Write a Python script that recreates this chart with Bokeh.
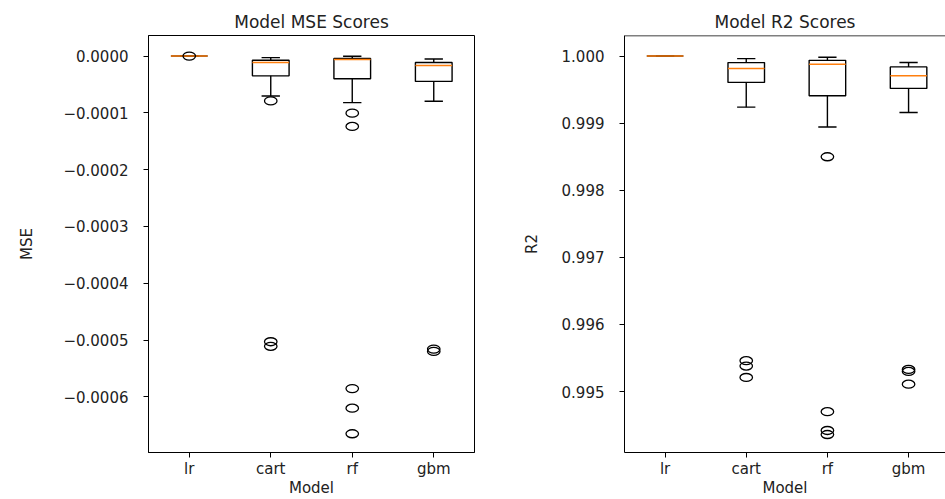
from bokeh.plotting import figure
from bokeh.layouts import row
from bokeh.models import Range1d, FixedTicker, Span
from bokeh.embed import file_html
from bokeh.resources import INLINE

models = ["lr", "cart", "rf", "gbm"]
positions = [1, 2, 3, 4]

# MSE box-plot statistics
mse_whisker_low = [0.0, -0.0000704, -0.0000820, -0.0000796]
mse_q1 = [0.0, -0.0000349, -0.0000400, -0.0000447]
mse_median = [0.0, -0.0000115, -0.0000063, -0.0000168]
mse_q3 = [0.0, -0.0000075, -0.0000045, -0.0000115]
mse_whisker_high = [0.0, -0.0000028, -0.0000005, -0.0000052]
mse_outliers = [
    [-0.0000002],
    [-0.0000790, -0.000503, -0.000511],
    [-0.0001006, -0.000124, -0.0005855, -0.000620, -0.000665],
    [-0.000516, -0.000520],
]
mse_yticks = [0.0, -0.0001, -0.0002, -0.0003, -0.0004, -0.0005, -0.0006]
mse_ytick_labels = ["0.0000", "\u22120.0001", "\u22120.0002", "\u22120.0003",
                    "\u22120.0004", "\u22120.0005", "\u22120.0006"]

# R2 box-plot statistics
r2_whisker_low = [1.0, 0.999238, 0.998942, 0.999158]
r2_q1 = [1.0, 0.999607, 0.999409, 0.999518]
r2_median = [1.0, 0.999814, 0.999877, 0.999705]
r2_q3 = [1.0, 0.999902, 0.999936, 0.999838]
r2_whisker_high = [1.0, 0.999962, 0.999981, 0.999903]
r2_outliers = [
    [],
    [0.99546, 0.99538, 0.99521],
    [0.998499, 0.99470, 0.99442, 0.99436],
    [0.99533, 0.99530, 0.99511],
]
r2_yticks = [1.000, 0.999, 0.998, 0.997, 0.996, 0.995]
r2_ytick_labels = ["1.000", "0.999", "0.998", "0.997", "0.996", "0.995"]

FONT = "DejaVu Sans"
BOX_HW = 0.225
CAP_HW = 0.1125


def make_fig(title, ylabel, wl, q1, med, q3, wh, outl, yticks, ylabels,
             x_end, y_start, y_end, width, bl, br, full_outline, ylabel_standoff):
    p = figure(width=width, height=499, output_backend="svg", toolbar_location=None,
               x_range=Range1d(0.5, x_end), y_range=Range1d(y_start, y_end),
               min_border_left=bl, min_border_right=br, min_border_top=35,
               min_border_bottom=44, title=title)
    p.background_fill_color = "white"
    p.border_fill_color = "white"
    p.xgrid.visible = False
    p.ygrid.visible = False
    if full_outline:
        p.outline_line_color = "black"
        p.outline_line_width = 1
    else:
        p.outline_line_color = None
        p.add_layout(Span(location=y_end, dimension="width", line_color="black",
                          line_width=1.5))
    p.title.text_font = FONT
    p.title.text_font_size = "17px"
    p.title.text_font_style = "normal"
    p.title.align = "center"
    p.title.text_color = "#222222"
    p.title.standoff = 8

    for ax in (p.xaxis[0], p.yaxis[0]):
        ax.axis_line_color = "black"
        ax.axis_line_width = 1
        ax.major_tick_line_color = "black"
        ax.major_tick_in = 0
        ax.major_tick_out = 5
        ax.minor_tick_line_color = None
        ax.major_label_text_font = FONT
        ax.major_label_text_font_size = "15px"
        ax.major_label_text_color = "#222222"
        ax.axis_label_text_font = FONT
        ax.axis_label_text_font_size = "15px"
        ax.axis_label_text_font_style = "normal"
        ax.axis_label_text_color = "#222222"

    p.xaxis.ticker = FixedTicker(ticks=positions)
    p.xaxis.major_label_overrides = {k: m for k, m in zip(positions, models)}
    p.xaxis.axis_label = "Model"
    p.xaxis.major_label_standoff = 2
    p.xaxis.axis_label_standoff = -2

    p.yaxis.ticker = FixedTicker(ticks=yticks)
    p.yaxis.major_label_overrides = {k: s for k, s in zip(yticks, ylabels)}
    p.yaxis.axis_label = ylabel
    p.yaxis.major_label_standoff = 15
    p.yaxis.axis_label_standoff = ylabel_standoff

    lw = 1.4
    x_left = [x - BOX_HW for x in positions]
    x_right = [x + BOX_HW for x in positions]
    c_left = [x - CAP_HW for x in positions]
    c_right = [x + CAP_HW for x in positions]

    p.segment(x0=positions, y0=q3, x1=positions, y1=wh, line_color="black", line_width=lw)
    p.segment(x0=positions, y0=q1, x1=positions, y1=wl, line_color="black", line_width=lw)
    p.segment(x0=c_left, y0=wh, x1=c_right, y1=wh, line_color="black", line_width=lw)
    p.segment(x0=c_left, y0=wl, x1=c_right, y1=wl, line_color="black", line_width=lw)
    p.quad(left=x_left, right=x_right, bottom=q1, top=q3, fill_color=None,
           line_color="black", line_width=lw)
    p.segment(x0=x_left, y0=med, x1=x_right, y1=med, line_color="#ff7f0e", line_width=1.5)

    fx, fy = [], []
    for x, vals in zip(positions, outl):
        for v in vals:
            fx.append(x)
            fy.append(v)
    p.ellipse(x=fx, y=fy, width=12.5, height=8, width_units="screen",
              height_units="screen", fill_color=None, line_color="black", line_width=1.3)
    return p


p1 = make_fig("Model MSE Scores", "MSE", mse_whisker_low, mse_q1, mse_median, mse_q3,
              mse_whisker_high, mse_outliers, mse_yticks, mse_ytick_labels,
              4.5, -0.000698, 0.0000361, 515, 148, 41, True, 24)
p2 = make_fig("Model R2 Scores", "R2", r2_whisker_low, r2_q1, r2_median, r2_q3,
              r2_whisker_high, r2_outliers, r2_yticks, r2_ytick_labels,
              4.455, 0.994092, 1.000306, 430, 109, 0, False, 18)

layout = row(p1, p2)
open("out.html", "w").write(file_html(layout, INLINE))
